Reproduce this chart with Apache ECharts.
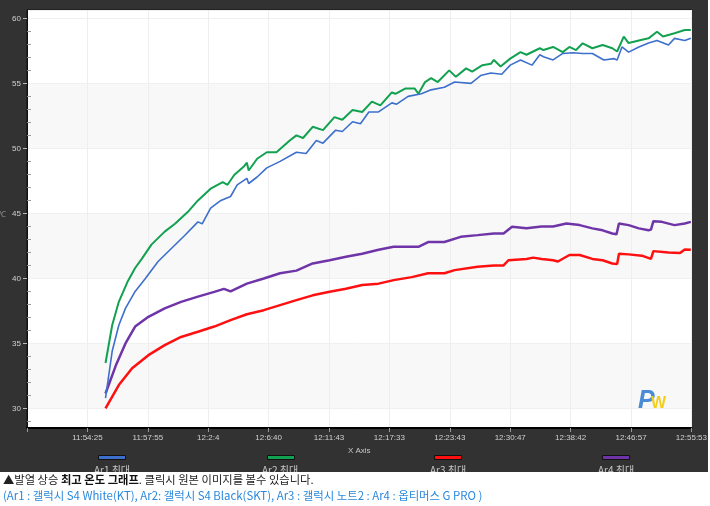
<!DOCTYPE html>
<html>
<head>
<meta charset="utf-8">
<script src="https://cdn.jsdelivr.net/npm/echarts@6/dist/echarts.min.js"></script>
<style>
html,body{margin:0;padding:0;background:#fff;}
#chart{width:710px;height:506px;}
</style>
</head>
<body>
<div id="chart"></div>
<script>
// x = sample index (100 per tick), y = temperature
const xTickLabels = ['', '11:54:25', '11:57:55', '12:2:4', '12:6:40', '12:11:43', '12:17:33', '12:23:43', '12:30:47', '12:38:42', '12:46:57', '12:55:53'];
const seriesNames = ['Ar1 최대', 'Ar2 최대', 'Ar3 최대', 'Ar4 최대'];
const yMinorTicks = [29,31,32,33,34,36,37,38,39,41,42,43,44,46,47,48,49,51,52,53,54,56,57,58,59];

const ar1 = [[130,30.8],[141,34.4],[152,36.4],[163,37.7],[179,39.0],[196,40.0],[217,41.3],[239,42.3],[261,43.3],[283,44.35],[290,44.2],[304,45.4],[321,46.0],[337,46.3],[348,47.2],[364,47.7],[367,47.3],[381,47.8],[397,48.5],[419,49.0],[446,49.7],[462,49.6],[479,50.6],[490,50.4],[511,51.4],[522,51.3],[539,52.05],[552,51.9],[566,52.8],[582,52.8],[604,53.5],[612,53.4],[631,54.0],[653,54.2],[669,54.5],[691,54.7],[708,55.1],[735,55.0],[751,55.6],[768,55.8],[786,55.7],[800,56.4],[817,56.8],[836,56.4],[849,57.2],[855,57.05],[871,56.8],[887,57.3],[904,57.35],[920,57.3],[936,57.3],[955,56.8],[972,56.9],[977,56.8],[985,57.8],[996,57.4],[1013,57.8],[1029,58.1],[1043,58.3],[1062,57.95],[1072,58.46],[1089,58.3],[1099,58.46]];
const ar2 = [[130,33.5],[141,36.4],[152,38.2],[166,39.7],[179,40.8],[190,41.5],[206,42.6],[228,43.6],[245,44.2],[266,45.1],[283,46.0],[304,46.9],[324,47.4],[332,47.2],[343,47.95],[359,48.6],[364,48.9],[367,48.3],[381,49.2],[397,49.7],[413,49.7],[435,50.6],[446,51.0],[457,50.8],[473,51.66],[490,51.4],[509,52.4],[522,52.2],[539,52.95],[555,52.8],[571,53.6],[585,53.3],[604,54.3],[610,54.2],[626,54.6],[642,54.6],[648,54.2],[659,55.1],[669,55.4],[680,55.1],[699,56.0],[710,55.5],[727,56.15],[737,55.9],[754,56.4],[768,56.5],[773,56.8],[784,56.3],[800,56.9],[817,57.4],[827,57.2],[849,57.7],[855,57.56],[871,57.8],[887,57.4],[898,57.8],[909,57.56],[920,58.08],[936,57.7],[953,57.95],[969,57.7],[977,57.45],[988,58.6],[996,58.1],[1013,58.3],[1029,58.46],[1043,58.97],[1053,58.6],[1072,58.85],[1089,59.1],[1099,59.1]];
const ar3 = [[130,30.0],[152,31.8],[174,33.1],[201,34.1],[228,34.87],[255,35.5],[283,35.9],[310,36.3],[337,36.8],[364,37.25],[392,37.56],[419,37.95],[446,38.33],[473,38.7],[501,38.97],[528,39.2],[555,39.5],[582,39.6],[607,39.87],[637,40.1],[664,40.4],[691,40.4],[708,40.64],[746,40.9],[773,41.0],[789,41.0],[797,41.4],[827,41.5],[838,41.6],[852,41.5],[871,41.4],[879,41.3],[898,41.8],[915,41.8],[936,41.5],[953,41.4],[969,41.15],[977,41.1],[980,41.9],[996,41.85],[1018,41.75],[1033,41.5],[1037,42.1],[1062,42.0],[1081,41.95],[1089,42.23],[1099,42.2]];
const ar4 = [[130,31.15],[147,33.3],[163,35.0],[179,36.3],[201,37.05],[228,37.7],[255,38.2],[283,38.6],[310,38.97],[326,39.2],[337,39.0],[364,39.6],[392,40.0],[419,40.4],[446,40.6],[473,41.15],[501,41.4],[528,41.66],[555,41.9],[582,42.2],[607,42.43],[610,42.56],[648,42.43],[664,42.8],[691,42.8],[718,43.2],[746,43.33],[773,43.46],[789,43.46],[803,43.97],[827,43.85],[852,44.0],[855,44.1],[871,44.0],[893,44.23],[915,44.1],[936,43.85],[953,43.7],[969,43.46],[976,43.4],[980,44.23],[996,44.1],[1013,43.85],[1029,43.7],[1033,43.75],[1037,44.4],[1051,44.35],[1072,44.1],[1089,44.23],[1099,44.35]];

const seriesData = [ar1, ar2, ar3, ar4];
const colors = ['#3d6fcc', '#12a150', '#ff1010', '#6f35a8'];
const widths = [1.6, 2, 2.5, 2.5];
const legendLeft = [98, 267, 434, 602];

const chart = echarts.init(document.getElementById('chart'), null, {renderer: 'canvas'});
const Y_MIN = 28.5, Y_MAX = 60.64;

const option = {
  animation: false,
  backgroundColor: '#fff',
  grid: {left: 27, top: 10, right: 11, bottom: 78, show: true, backgroundColor: '#fff', borderColor: '#111', borderWidth: 1},
  xAxis: {
    type: 'value', min: 0, max: 1100, interval: 100,
    name: 'X Axis', nameLocation: 'middle', nameGap: 17,
    nameTextStyle: {color: '#c8c8c8', fontSize: 8, fontFamily: 'Liberation Sans'},
    axisLine: {show: true, lineStyle: {color: '#000', width: 2}},
    axisTick: {show: true, length: 4, lineStyle: {color: '#999'}},
    axisLabel: {color: '#d0d0d0', fontSize: 8, margin: 6, fontFamily: 'Liberation Sans',
      formatter: v => xTickLabels[Math.round(v / 100)] || ''},
    splitLine: {show: true, lineStyle: {color: '#eeeeee'}}
  },
  yAxis: [{
    type: 'value', min: Y_MIN, max: Y_MAX,
    axisLine: {show: true, lineStyle: {color: '#111'}},
    axisTick: {show: true, length: 4, lineStyle: {color: '#bbb'}},
    axisLabel: {color: '#d0d0d0', fontSize: 8, margin: 6, fontFamily: 'Liberation Sans', showMinLabel: false, showMaxLabel: false},
    splitLine: {show: true, lineStyle: {color: '#f0f0f0'}},
    splitArea: {show: true, areaStyle: {color: ['#ffffff', '#f8f8f8', '#ffffff', '#f8f8f8', '#ffffff', '#f8f8f8', '#ffffff', '#ffffff']}}
  }, {
    type: 'value', min: Y_MIN, max: Y_MAX, position: 'left',
    axisLine: {show: false},
    axisTick: {show: true, inside: true, length: 4, customValues: yMinorTicks, lineStyle: {color: '#999'}},
    axisLabel: {show: false},
    splitLine: {show: false}
  }],
  legend: seriesNames.map((n, i) => ({
    data: [n], left: legendLeft[i], top: 455, padding: 0,
    icon: 'rect', itemWidth: 27, itemHeight: 4,
    itemStyle: {borderColor: '#111', borderWidth: 1},
    formatter: () => '', textStyle: {fontSize: 4}, selectedMode: false
  })),
  series: seriesData.map((d, i) => ({
    name: seriesNames[i], type: 'line', data: d, showSymbol: false, symbol: 'none',
    color: colors[i], lineStyle: {width: widths[i], color: colors[i]}, z: 2 + (i === 0 ? 1 : 0)
  })),
  graphic: [
    {type: 'rect', shape: {x: 0, y: 0, width: 708, height: 472}, style: {fill: '#323232'}, z: -10, silent: true},
    {type: 'text', x: -2, y: 211, style: {text: '℃', fill: '#999', font: '8px "Liberation Sans"'}, z: 10},
    {type: 'text', x: 112, y: 465, style: {text: seriesNames[0], fill: '#c8c8c8', font: '10px "Noto Sans CJK KR"', align: 'center'}, z: 10},
    {type: 'text', x: 280, y: 465, style: {text: seriesNames[1], fill: '#c8c8c8', font: '10px "Noto Sans CJK KR"', align: 'center'}, z: 10},
    {type: 'text', x: 448, y: 465, style: {text: seriesNames[2], fill: '#c8c8c8', font: '10px "Noto Sans CJK KR"', align: 'center'}, z: 10},
    {type: 'text', x: 616, y: 465, style: {text: seriesNames[3], fill: '#c8c8c8', font: '10px "Noto Sans CJK KR"', align: 'center'}, z: 10},
    {type: 'rect', shape: {x: 0, y: 472, width: 710, height: 34}, style: {fill: '#ffffff'}, z: 100, silent: true},
    {type: 'text', x: 638, y: 389, style: {text: 'P', fill: '#4a8bd6', font: 'italic bold 25px "Liberation Sans"'}, z: 50},
    {type: 'text', x: 651, y: 396, style: {text: 'W', fill: '#f3cf1c', font: 'bold 16px "Liberation Sans"'}, z: 51},
    {type: 'text', x: 3, y: 474, z: 101, style: {
      text: '{a|▲발열 상승 }{b|최고 온도 그래프}{a|. 클릭시 원본 이미지를 볼수 있습니다.}',
      rich: {a: {fill: '#222', font: '11.3px "Noto Sans CJK KR"'}, b: {fill: '#111', font: 'bold 11.3px "Noto Sans CJK KR"'}}
    }},
    {type: 'text', x: 3, y: 490, z: 101, style: {
      text: '(Ar1 : 갤럭시 S4 White(KT), Ar2: 갤럭시 S4 Black(SKT), Ar3 : 갤럭시 노트2 : Ar4 : 옵티머스 G PRO )',
      fill: '#2a88dd', font: '11.4px "Noto Sans CJK KR"'
    }}
  ]
};
chart.setOption(option);
</script>
</body>
</html>
